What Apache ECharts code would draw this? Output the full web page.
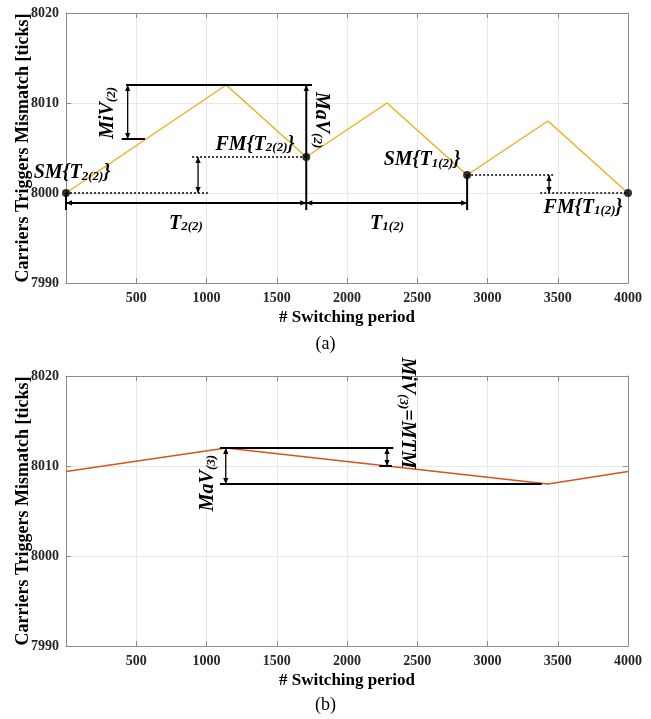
<!DOCTYPE html>
<html>
<head>
<meta charset="utf-8">
<script src="https://cdn.jsdelivr.net/npm/echarts@6/dist/echarts.min.js"></script>
<style>html,body{margin:0;padding:0;background:#fff;}#c{width:651px;height:719px;}</style>
</head>
<body>
<div id="c"></div>
<script>
// ---- data ----
const xTickLabels = [500, 1000, 1500, 2000, 2500, 3000, 3500, 4000];
const yTickLabels = [7990, 8000, 8010, 8020];

// (a) triangular mismatch
const topX = [0, 1140, 1710, 2285, 2855, 3430, 4000];
const topY = [8000, 8012, 8004, 8010, 8002, 8008, 8000];
const topDots = [[0, 8000], [1710, 8004], [2855, 8002], [4000, 8000]];

// (b)
const botX = [0, 1140, 3430, 4000];
const botY = [8009.4, 8012, 8008, 8009.4];

// annotation geometry (data coordinates)
const topThick = [[427, 8012, 1751, 8012], [396, 8006, 562, 8006], [0, 8000, 0, 7998.1], [2855, 8002, 2855, 7998.1]];
const topDotted = [[0, 8000, 1010, 8000], [897, 8004, 1710, 8004], [2855, 8002, 3480, 8002], [3375, 8000, 4000, 8000]];
const topArrow2Thin = [[439, 8012, 439, 8006], [940, 8000, 940, 8004], [3438, 8000, 3438, 8002]];
const topArrow2Thick = [[0, 7998.9, 1710, 7998.9], [1710, 7998.9, 2855, 7998.9]];
const topArrow1Thick = [[1710, 7998.1, 1710, 8012]];
const topLabelsH = [
  { pos: [1345, 8005.4], text: 'FM{T{s|2(2)}}' },
  { pos: [43, 8002.2], text: 'SM{T{s|2(2)}}' },
  { pos: [854, 7996.6], text: 'T{s|2(2)}' },
  { pos: [2285, 7996.6], text: 'T{s|1(2)}' },
  { pos: [2534, 8003.7], text: 'SM{T{s|1(2)}}' },
  { pos: [3680, 7998.4], text: 'FM{T{s|1(2)}}' }
];
const topLabelsCCW = [{ pos: [299, 8008.9], text: 'MiV{s|(2)}' }];
const topLabelsCW = [{ pos: [1815, 8008.1], text: 'MaV{s|(2)}' }];

const botThick = [[1096, 8012, 2330, 8012], [1096, 8008, 3386, 8008], [2230, 8010, 2320, 8010]];
const botArrow2Thin = [[1137, 8012, 1137, 8008], [2285, 8012, 2285, 8010]];
const botLabelsCCW = [{ pos: [1011, 8008.1], text: 'MaV{s|(3)}' }];
const botLabelsCW = [{ pos: [2427, 8015.9], text: 'MiV{s|(3)}=MTM' }];

// ---- styling ----
const SERIF = '"Liberation Serif", "DejaVu Serif", serif';
const AX = '#8c8c8c';

function segRender(width, dash, heads) {
  return function (params, api) {
    const p1 = api.coord([api.value(0), api.value(1)]);
    const p2 = api.coord([api.value(2), api.value(3)]);
    const children = [{
      type: 'line',
      shape: { x1: p1[0], y1: p1[1], x2: p2[0], y2: p2[1] },
      style: { stroke: '#000', lineWidth: width, lineDash: dash || null }
    }];
    const head = (tip, from) => {
      const dx = tip[0] - from[0], dy = tip[1] - from[1];
      const L = Math.hypot(dx, dy) || 1;
      const ux = dx / L, uy = dy / L, nx = -uy, ny = ux;
      const len = 6, w = 2.6;
      const bx = tip[0] - ux * len, by = tip[1] - uy * len;
      return {
        type: 'polygon',
        shape: { points: [[tip[0], tip[1]], [bx + nx * w, by + ny * w], [bx - nx * w, by - ny * w]] },
        style: { fill: '#000' }
      };
    };
    if (heads >= 1) children.push(head(p2, p1));
    if (heads >= 2) children.push(head(p1, p2));
    return { type: 'group', children: children };
  };
}

function labelRender(list, rot) {
  return function (params, api) {
    const item = list[params.dataIndex];
    const p = api.coord(item.pos);
    return {
      type: 'text',
      x: p[0], y: p[1], rotation: rot,
      style: {
        text: item.text,
        fill: '#000',
        fontFamily: SERIF, fontSize: 20, fontWeight: 'bold', fontStyle: 'italic',
        align: 'center', verticalAlign: 'middle',
        rich: {
          s: { fontFamily: SERIF, fontSize: 13, fontWeight: 'bold', fontStyle: 'italic',
               fill: '#000', verticalAlign: 'bottom', lineHeight: 13, padding: [10, 0, 0, 0] }
        }
      }
    };
  };
}

function segSeries(data, gi, width, dash, heads) {
  return {
    type: 'custom', xAxisIndex: gi * 2, yAxisIndex: gi * 2, clip: false, silent: true, z: 5,
    encode: { x: [0, 2], y: [1, 3] },
    renderItem: segRender(width, dash, heads), data: data
  };
}
function labelSeries(list, gi, rot) {
  return {
    type: 'custom', xAxisIndex: gi * 2, yAxisIndex: gi * 2, clip: false, silent: true, z: 6,
    encode: { x: 0, y: 1 },
    renderItem: labelRender(list, rot), data: list.map(d => d.pos)
  };
}

function mainX(gi) {
  return {
    gridIndex: gi, type: 'value', min: 0, max: 4000, interval: 500, position: 'bottom',
    name: '# Switching period', nameLocation: 'middle', nameGap: 26, nameMoveOverlap: false,
    nameTextStyle: { fontFamily: SERIF, fontSize: 17, fontWeight: 'bold', color: '#000' },
    axisLine: { show: true, onZero: false, lineStyle: { color: AX } },
    axisTick: { show: true, inside: true, length: 5, lineStyle: { color: AX } },
    splitLine: { show: true, lineStyle: { color: '#e8e8e8' } },
    axisLabel: { fontFamily: SERIF, fontSize: 14, fontWeight: 'bold', color: '#262626', margin: 8,
      formatter: v => xTickLabels.includes(v) ? String(v) : '' }
  };
}
function mirrorX(gi) {
  return {
    gridIndex: gi, type: 'value', min: 0, max: 4000, interval: 500, position: 'top',
    axisLine: { show: true, onZero: false, lineStyle: { color: AX } },
    axisTick: { show: true, inside: true, length: 5, lineStyle: { color: AX } },
    splitLine: { show: false }, axisLabel: { show: false }
  };
}
function mainY(gi) {
  return {
    gridIndex: gi, type: 'value', min: 7990, max: 8020, interval: 10, position: 'left',
    name: 'Carriers Triggers Mismatch [ticks]', nameLocation: 'middle', nameGap: 34, nameMoveOverlap: false,
    nameTextStyle: { fontFamily: SERIF, fontSize: 18, fontWeight: 'bold', color: '#000' },
    axisLine: { show: true, onZero: false, lineStyle: { color: AX } },
    axisTick: { show: true, inside: true, length: 5, lineStyle: { color: AX } },
    splitLine: { show: true, lineStyle: { color: '#e8e8e8' } },
    axisLabel: { fontFamily: SERIF, fontSize: 14, fontWeight: 'bold', color: '#262626', margin: 7,
      formatter: v => yTickLabels.includes(v) ? String(v) : '' }
  };
}
function mirrorY(gi) {
  return {
    gridIndex: gi, type: 'value', min: 7990, max: 8020, interval: 10, position: 'right',
    axisLine: { show: true, onZero: false, lineStyle: { color: AX } },
    axisTick: { show: true, inside: true, length: 5, lineStyle: { color: AX } },
    splitLine: { show: false }, axisLabel: { show: false }
  };
}

const zip = (xs, ys) => xs.map((x, i) => [x, ys[i]]);

const chart = echarts.init(document.getElementById('c'), null, { renderer: 'canvas' });
chart.setOption({
  animation: false,
  backgroundColor: '#fff',
  title: [
    { text: '(a)', left: 'center', top: 335, padding: 0,
      textStyle: { fontFamily: SERIF, fontSize: 18, fontWeight: 'normal', color: '#000' } },
    { text: '(b)', left: 'center', top: 696, padding: 0,
      textStyle: { fontFamily: SERIF, fontSize: 18, fontWeight: 'normal', color: '#000' } }
  ],
  grid: [
    { left: 66, width: 562, top: 13, height: 270, outerBoundsMode: 'none', containLabel: false },
    { left: 66, width: 562, top: 376, height: 270, outerBoundsMode: 'none', containLabel: false }
  ],
  xAxis: [mainX(0), mirrorX(0), mainX(1), mirrorX(1)],
  yAxis: [mainY(0), mirrorY(0), mainY(1), mirrorY(1)],
  series: [
    { type: 'line', xAxisIndex: 0, yAxisIndex: 0, data: zip(topX, topY), symbol: 'none',
      lineStyle: { color: '#EDB120', width: 1.5 }, z: 3 },
    { type: 'line', xAxisIndex: 2, yAxisIndex: 2, data: zip(botX, botY), symbol: 'none',
      lineStyle: { color: '#D95319', width: 1.5 }, z: 3 },
    segSeries(topThick, 0, 2, null, 0),
    segSeries(topDotted, 0, 1.5, [2, 2], 0),
    segSeries(topArrow2Thin, 0, 1.3, null, 2),
    segSeries(topArrow2Thick, 0, 2, null, 2),
    segSeries(topArrow1Thick, 0, 2, null, 1),
    { type: 'scatter', xAxisIndex: 0, yAxisIndex: 0, data: topDots, symbol: 'circle', symbolSize: 8,
      itemStyle: { color: '#000' }, z: 7, clip: false },
    labelSeries(topLabelsH, 0, 0),
    labelSeries(topLabelsCCW, 0, Math.PI / 2),
    labelSeries(topLabelsCW, 0, -Math.PI / 2),
    segSeries(botThick, 1, 2, null, 0),
    segSeries(botArrow2Thin, 1, 1.3, null, 2),
    labelSeries(botLabelsCCW, 1, Math.PI / 2),
    labelSeries(botLabelsCW, 1, -Math.PI / 2)
  ]
});
</script>
</body>
</html>
